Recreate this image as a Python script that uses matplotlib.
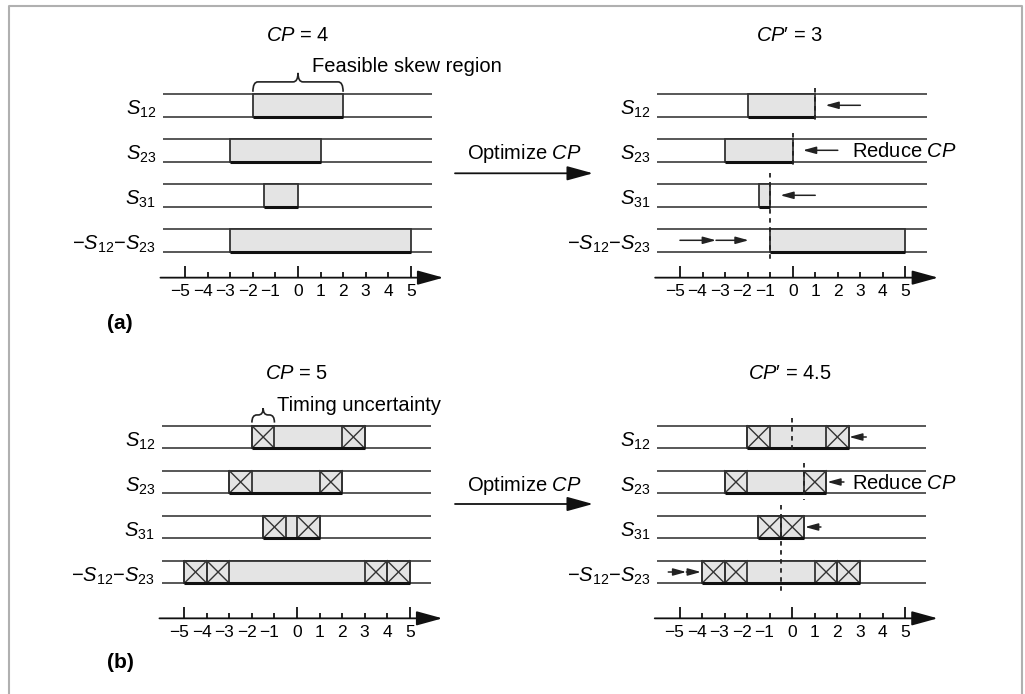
import matplotlib
matplotlib.use('Agg')
import matplotlib.pyplot as plt
from matplotlib.path import Path
from matplotlib.patches import PathPatch

plt.rcParams['font.family'] = ['Liberation Sans', 'DejaVu Sans']
plt.rcParams['mathtext.fontset'] = 'custom'
plt.rcParams['mathtext.rm'] = 'Liberation Sans'
plt.rcParams['mathtext.it'] = 'Liberation Sans:italic'
plt.rcParams['mathtext.bf'] = 'Liberation Sans:bold'

W, H = 1025, 694

# row labels and axis ticks
rows = ['$S_{12}$', '$S_{23}$', '$S_{31}$', '\u2212$S_{12}$\u2212$S_{23}$']
ticks = list(range(-5, 6))

# (a) feasible skew regions before / after optimizing CP
a_lo = [-2, -3, -1.5, -3]
a_hi = [2, 1, 0, 5]
a_opt_lo = [-2, -3, -1.5, -1]
a_opt_hi = [1, 0, -1, 5]
a_cut = [1, 0, -1]
a_push = [(3.0, 1.45), (2.0, 0.45), (1.0, -0.55)]
a_push_last = [-5.0, -3.4, -1.95]

# (b) same with timing uncertainty boxes of width 1
b_lo = [-2, -3, -1.5, -5]
b_hi = [3, 2, 1, 5]
b_nbox = [1, 1, 1, 2]
b_opt_lo = [-2, -3, -1.5, -4]
b_opt_hi = [2.5, 1.5, 0.5, 3]
b_cut = [0, 0.5, -0.5]
b_push = [(3.28, 2.52), (2.29, 1.55), (1.27, 0.56)]
b_push_last = [-5.5, -4.7, -4.05]

LINE = '#4a4a4a'
EDGE = '#333333'
FILL = '#e4e4e4'
FS = 14.5

fig = plt.figure(figsize=(W / 100, H / 100), dpi=100)
ov = fig.add_axes([0, 0, 1, 1])
ov.set_xlim(0, W)
ov.set_ylim(H, 0)
ov.axis('off')

# frame
ov.plot([9, 9, 1021.5, 1021.5], [H, 5.5, 5.5, H], color='#b0b0b0', lw=1.5)

UNIT = 22.55
ROWSTEP = 45


def make_axes(x0, y0):
    left = (x0 - 7 * UNIT) / W
    bottom = 1 - (y0 + 5 * ROWSTEP) / H
    ax = fig.add_axes([left, bottom, 14 * UNIT / W, 7 * ROWSTEP / H])
    ax.set_xlim(-7, 7)
    ax.set_ylim(5, -2)
    ax.axis('off')
    ax.patch.set_alpha(0)
    return ax


def brace(ax, x0, x1, ybase, h, hmid):
    mid = (x0 + x1) / 2
    rx = 0.22
    ym = ybase - hmid
    yt = ybase - h
    verts = [(x0, ybase), (x0, ym), (x0 + rx, ym), (mid - rx, ym), (mid, ym), (mid, yt),
             (x1, ybase), (x1, ym), (x1 - rx, ym), (mid + rx, ym), (mid, ym), (mid, yt)]
    codes = [Path.MOVETO, Path.CURVE3, Path.CURVE3, Path.LINETO, Path.CURVE3, Path.CURVE3] * 2
    ax.add_patch(PathPatch(Path(verts, codes), fill=False, color='#222222', lw=1.2))


def small_arrow(ax, x_from, x_to, y):
    ax.annotate('', xy=(x_to, y), xytext=(x_from, y),
                arrowprops=dict(arrowstyle='-|>,head_length=0.65,head_width=0.18',
                                mutation_scale=12, color='#222222', lw=1.1,
                                shrinkA=0, shrinkB=0))


def draw_panel(ax, lo, hi, nbox, axis_y):
    for i in range(4):
        ax.hlines([i - 0.25, i + 0.25], -6, 5.95, color=LINE, lw=1.3, zorder=1)
        ax.text(-6.3, i + 0.22, rows[i], ha='right', va='baseline', fontsize=FS)
    for i in range(4):
        ax.barh(i, hi[i] - lo[i], left=lo[i], height=0.5, color=FILL,
                edgecolor=EDGE, lw=1.3, zorder=2)
        for k in range(nbox[i]):
            for a in (lo[i] + k, hi[i] - k - 1):
                ax.barh(i, 1, left=a, height=0.5, fill=False, edgecolor=EDGE, lw=1.3, zorder=3)
                ax.plot([a, a + 1], [i - 0.25, i + 0.25], color=EDGE, lw=1.0, zorder=3)
                ax.plot([a, a + 1], [i + 0.25, i - 0.25], color=EDGE, lw=1.0, zorder=3)
        ax.hlines(i + 0.25, lo[i], hi[i], color='#111111', lw=2.2, zorder=4)
    # number line
    ax.annotate('', xy=(6.45, axis_y), xytext=(-6.1, axis_y),
                arrowprops=dict(arrowstyle='-|>,head_length=0.8,head_width=0.22',
                                mutation_scale=20, color='#111111', lw=1.3,
                                shrinkA=0, shrinkB=0))
    for t in ticks:
        tall = 0.26 if t in (-5, 0, 5) else 0.12
        ax.vlines(t, axis_y - tall, axis_y, color='#111111', lw=1.3)
        lbl = str(t).replace('-', '\u2212')
        ax.annotate(lbl, (t, axis_y + 0.31), xytext=(3.4 if t < 0 else 0, 0),
                    textcoords='offset points', ha='right' if t < 0 else 'center',
                    va='center', fontsize=12.5)


def draw_cuts(ax, cut, push, push_last, ext):
    for i, c in enumerate(cut):
        y0, y1 = ext[i]
        ax.vlines(c, y0, y1, color='#222222', lw=1.3, linestyles=(0, (2.5, 2.5)), zorder=5)
    for i, (f, t) in enumerate(push):
        small_arrow(ax, f, t, i)
    small_arrow(ax, push_last[0], push_last[1], 3)
    small_arrow(ax, push_last[1], push_last[2], 3)


# (a)
ax1 = make_axes(298, 105.3)
draw_panel(ax1, a_lo, a_hi, [0, 0, 0, 0], 3.83)
brace(ax1, a_lo[0], a_hi[0], -0.3, 0.42, 0.22)

ax2 = make_axes(792.7, 105.3)
draw_panel(ax2, a_opt_lo, a_opt_hi, [0, 0, 0, 0], 3.83)
draw_cuts(ax2, a_cut, a_push, a_push_last, [(-0.38, 0.39), (0.62, 1.39), (1.5, 3.44)])

# (b)
ax3 = make_axes(297, 437)
draw_panel(ax3, b_lo, b_hi, b_nbox, 4.03)
brace(ax3, b_lo[0], b_lo[0] + 1, -0.32, 0.32, 0.17)

ax4 = make_axes(792.3, 437)
draw_panel(ax4, b_opt_lo, b_opt_hi, b_nbox, 4.03)
draw_cuts(ax4, b_cut, b_push, b_push_last, [(-0.42, 0.36), (0.58, 1.4), (1.52, 3.47)])

# texts and arrows between panels
ov.text(298, 35, '$CP$ = 4', ha='center', va='center', fontsize=FS)
ov.text(790, 35, '$CP$\u2032 = 3', ha='center', va='center', fontsize=FS)
ov.text(297, 373, '$CP$ = 5', ha='center', va='center', fontsize=FS)
ov.text(790, 373, '$CP$\u2032 = 4.5', ha='center', va='center', fontsize=FS)
ov.text(311.7, 66.7, 'Feasible skew region', ha='left', va='center', fontsize=FS)
ov.text(276.7, 405, 'Timing uncertainty', ha='left', va='center', fontsize=FS)
ov.text(851.7, 151.7, 'Reduce $CP$', ha='left', va='center', fontsize=FS)
ov.text(851.7, 483.3, 'Reduce $CP$', ha='left', va='center', fontsize=FS)
for ya, yt in ((173.3, 153.3), (504, 485)):
    ov.text(524, yt, 'Optimize $CP$', ha='center', va='center', fontsize=FS)
    ov.annotate('', xy=(593, ya), xytext=(455, ya),
                arrowprops=dict(arrowstyle='-|>,head_length=0.8,head_width=0.22',
                                mutation_scale=20, color='#111111', lw=1.3,
                                shrinkA=0, shrinkB=0))
ov.text(107, 323, '(a)', ha='left', va='center', fontsize=15, fontweight='bold')
ov.text(107, 663, '(b)', ha='left', va='center', fontsize=15, fontweight='bold')

fig.savefig('out.png', dpi=100)
